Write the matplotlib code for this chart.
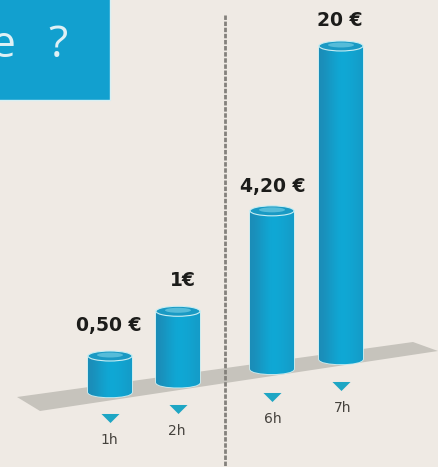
#cost per hour chart, cylinders on a tilted slab
import numpy as np
import matplotlib
matplotlib.use("Agg")
import matplotlib.pyplot as plt
from matplotlib.patches import Polygon, Ellipse, Rectangle, PathPatch
from matplotlib.path import Path

hours = ["1h", "2h", "6h", "7h"]
price_labels = ["0,50 €", "1€", "4,20 €", "20 €"]
#drawn heights, the cylinders are not to scale with the prices
bar_heights = [41, 76, 163, 318]

bar_x = [110, 178, 272, 341]
half_w = 22
rim_h = 5
bg = "#efeae4"
blue = "#12a3d0"

def base_y(x):
    return 397 - (x - 110) * 0.143

fig = plt.figure(figsize=(4.38, 4.67), dpi=100, facecolor=bg)
ax = fig.add_axes([0, 0, 1, 1])
ax.axis("off")

#title box, text is cut off on the left edge
ax.add_patch(Rectangle((-2, -2), 112, 102, fc="#12a0cf", ec="#d8f0f4", lw=1, zorder=1))
ax.text(3, 46, "e", color="#dff0f5", fontsize=32, family="Open Sans", ha="center", va="center", zorder=2)
ax.text(58, 46, "?", color="#dff0f5", fontsize=32, family="Open Sans", ha="center", va="center", zorder=2)

#slab
ax.add_patch(Polygon([(17, 397), (413, 342), (438, 351), (40, 411)], fc="#c6c3bc", ec="none", zorder=1))

#dashed divider
ax.plot([225, 225], [15, 467], color="#84817c", lw=2, dashes=(1.6, 0.6), zorder=6)

#gradient across the cylinder, darker on the left
grad = np.array([[0.0, 0.35, 0.7, 1.0, 0.9, 0.8, 0.55]])
cm = matplotlib.colors.LinearSegmentedColormap.from_list("cyl", ["#1b8db8", "#0fa9d6"])

for i in range(len(hours)):
    x = bar_x[i]
    yb = base_y(x)
    yt = yb - bar_heights[i]
    #body outline with rounded bottom
    verts = [(x - half_w, yt), (x - half_w, yb - rim_h),
             (x - half_w, yb + 2), (x + half_w, yb + 2), (x + half_w, yb - rim_h),
             (x + half_w, yt), (x - half_w, yt)]
    codes = [Path.MOVETO, Path.LINETO, Path.CURVE4, Path.CURVE4, Path.CURVE4, Path.LINETO, Path.CLOSEPOLY]
    body = PathPatch(Path(verts, codes), fc=blue, ec="#c9eef3", lw=1.2, zorder=3)
    ax.add_patch(body)
    im = ax.imshow(grad, extent=(x - half_w, x + half_w, yb + 2, yt), cmap=cm, aspect="auto",
                   interpolation="bicubic", zorder=4)
    im.set_clip_path(body)
    #top of the cylinder
    ax.add_patch(Ellipse((x, yt), 2 * half_w, 2 * rim_h, fc="#1a9ac4", ec="#c9eef3", lw=0.8, zorder=5))
    ax.add_patch(Ellipse((x, yt - 1), 26, 5, fc="#55bcd9", ec="none", zorder=5))

    #price above
    ax.text(x + [-1, 5, 1, -1][i], yt - [31, 31, 24, 25][i], price_labels[i], fontsize=13.5, fontweight="bold",
            family="DejaVu Sans", color="#1c1c1a", ha="center", va="center", zorder=7)
    #marker and hour below
    ym = yb + [21, 22, 23, 22][i]
    ax.plot([x], [ym], marker=[(-8, 4), (8, 4), (0, -4)], ms=13, color="#1ea6c4", mec="none", zorder=7)
    ax.text(x + [-1, -1, 1, 2][i], ym + 22, hours[i], fontsize=10, family="DejaVu Sans",
            color="#45423d", ha="center", va="center", zorder=7)

ax.set_xlim(0, 438)
ax.set_ylim(467, 0)
fig.savefig("out.png", dpi=100, facecolor=bg)
